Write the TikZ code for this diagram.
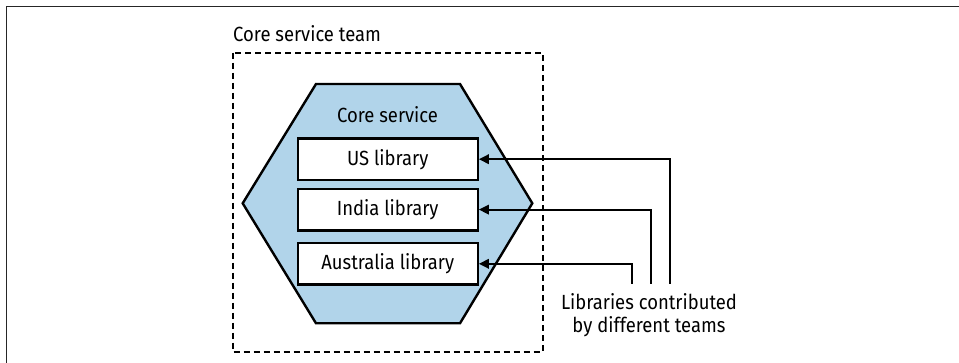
\documentclass[tikz,border=0pt]{standalone}
\usepackage{fontspec}
\setmainfont[FakeStretch=0.9]{Fira Sans}
\usetikzlibrary{arrows.meta}
\definecolor{hexblue}{HTML}{B1D4EA}
\tikzset{
  lbl/.style={font=\fontsize{20.5}{23}\selectfont, inner sep=0pt},
  libbox/.style={draw=black, line width=2.4pt, fill=white, minimum width=180pt, minimum height=41.5pt, inner sep=0pt, font=\fontsize{20.5}{23}\selectfont},
  arr/.style={line width=2pt, -{Triangle[length=10pt,width=9.5pt]}},
  frameline/.style={line width=1pt, draw=black!85}
}
\begin{document}
\begin{tikzpicture}[x=1pt,y=-1pt]
\useasboundingbox (0,0) rectangle (959,363);
\fill[white] (0,0) rectangle (959,363);
% outer frame (partial)
\draw[frameline] (6,363) -- (6,7) -- (959,7);
% team label and dashed region
\node[lbl, anchor=base west] (teamlbl) at (233,41.7) {Core service team};
\draw[line width=2.2pt, dash pattern=on 6pt off 4pt] (232.7,52.7) rectangle (542.7,351.7);
% hexagon
\draw[line width=2.4pt, fill=hexblue, line join=miter]
  (316,84) -- (460,84) -- (532.3,203.3) -- (460,323.3) -- (316,323.3) -- (242.7,203.3) -- cycle;
\node[lbl] (core) at (387.5,115) {Core service};
% library boxes
\node[libbox] (us) at (387.7,159.2) {US library};
\node[libbox] (india) at (387.7,209.6) {India library};
\node[libbox] (aus) at (387.7,263.8) {Australia library};
% contributor points
\coordinate (c1) at (670,284);
\coordinate (c2) at (651,284);
\coordinate (c3) at (632.3,284);
\draw[arr] (c1) |- (us.east);
\draw[arr] (c2) |- (india.east);
\draw[arr] (c3) |- (aus.east);
% label
\node[lbl, align=center, anchor=north] (contrib) at (649,293.5) {Libraries contributed\\by different teams};
\end{tikzpicture}
\end{document}
